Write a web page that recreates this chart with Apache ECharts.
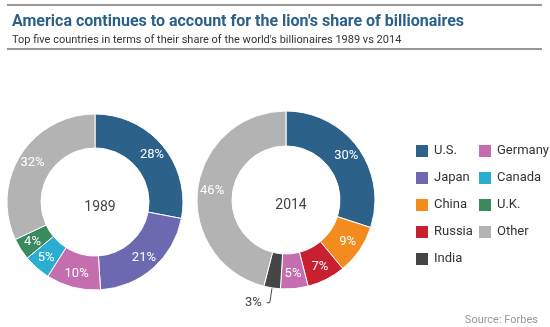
<!DOCTYPE html>
<html>
<head>
<meta charset="utf-8">
<script src="https://cdn.jsdelivr.net/npm/echarts@6/dist/echarts.min.js"></script>
<style>
html,body{margin:0;padding:0;background:#fff;}
#c{width:550px;height:327px;}
</style>
</head>
<body>
<div id="c"></div>
<script>
// Data
const names1989 = ['U.S.', 'Japan', 'Germany', 'Canada', 'U.K.', 'Other'];
const values1989 = [28, 21, 10, 5, 4, 32];
const names2014 = ['U.S.', 'China', 'Russia', 'Germany', 'India', 'Other'];
const values2014 = [30, 9, 7, 5, 3, 46];
const legendCol1 = ['U.S.', 'Japan', 'China', 'Russia', 'India'];
const legendCol2 = ['Germany', 'Canada', 'U.K.', 'Other'];
const colors = {
  'U.S.': '#2c6289', 'Japan': '#6c69b0', 'China': '#f38b1f', 'Russia': '#c9202f',
  'India': '#454545', 'Germany': '#c56eaf', 'Canada': '#2aadd0', 'U.K.': '#398a5d', 'Other': '#b3b3b3'
};
const FONT = 'Roboto, "Noto Sans", sans-serif';

function buildData(names, values) {
  return names.map((n, i) => {
    const d = { name: n, value: values[i], itemStyle: { color: colors[n] } };
    if (n === 'India') {
      d.label = { position: 'outside', color: '#444', fontSize: 13 };
      d.labelLine = { show: true, length: 15, length2: 3, lineStyle: { color: '#444', width: 1 } };
    }
    return d;
  });
}

const chart = echarts.init(document.getElementById('c'), null, { renderer: 'canvas' });
const pieBase = {
  type: 'pie',
  startAngle: 90,
  clockwise: true,
  avoidLabelOverlap: false,
  itemStyle: { borderColor: '#fff', borderWidth: 1 },
  label: { show: true, position: 'inside', formatter: '{c}%', color: '#fff', fontSize: 13, fontFamily: FONT },
  labelLine: { show: false },
  emphasis: { disabled: true },
  animation: false
};
chart.setOption({
  animation: false,
  textStyle: { fontFamily: FONT },
  title: [
    { text: "America continues to account for the lion's share of billionaires", left: 7, top: 9,
      textStyle: { fontSize: 16, fontWeight: 'bold', color: '#2b6189', fontFamily: FONT } },
    { text: "Top five countries in terms of their share of the world's billionaires 1989 vs 2014", left: 7, top: 30,
      textStyle: { fontSize: 11, fontWeight: 'normal', color: '#333', fontFamily: FONT } },
    { text: '1989', left: 95, top: 202, textAlign: 'center', textVerticalAlign: 'middle',
      textStyle: { fontSize: 14, fontWeight: 'normal', color: '#444', fontFamily: FONT } },
    { text: '2014', left: 286, top: 200, textAlign: 'center', textVerticalAlign: 'middle',
      textStyle: { fontSize: 14, fontWeight: 'normal', color: '#444', fontFamily: FONT } },
    { text: 'Source: Forbes', right: 7, top: 310,
      textStyle: { fontSize: 11, fontWeight: 'normal', color: '#999', fontFamily: FONT } }
  ],
  graphic: [
    { type: 'line', shape: { x1: 7, y1: 5, x2: 542, y2: 5 }, style: { stroke: '#999', lineWidth: 2 } },
    { type: 'line', shape: { x1: 7, y1: 49, x2: 542, y2: 49 }, style: { stroke: '#999', lineWidth: 2 } }
  ],
  legend: [
    { orient: 'vertical', left: 409, top: 138, itemWidth: 14, itemHeight: 14, itemGap: 11, itemTextGap: 4,
      icon: 'rect', data: legendCol1, selectedMode: false,
      textStyle: { fontSize: 13, color: '#333', fontFamily: FONT } },
    { orient: 'vertical', left: 472, top: 138, itemWidth: 14, itemHeight: 14, itemGap: 11, itemTextGap: 4,
      icon: 'rect', data: legendCol2, selectedMode: false,
      textStyle: { fontSize: 13, color: '#333', fontFamily: FONT } }
  ],
  series: [
    Object.assign({}, pieBase, { name: '1989', center: [95, 202], radius: [54, 88], data: buildData(names1989, values1989) }),
    Object.assign({}, pieBase, { name: '2014', center: [286, 200], radius: [54, 89], data: buildData(names2014, values2014) })
  ]
});
</script>
</body>
</html>
